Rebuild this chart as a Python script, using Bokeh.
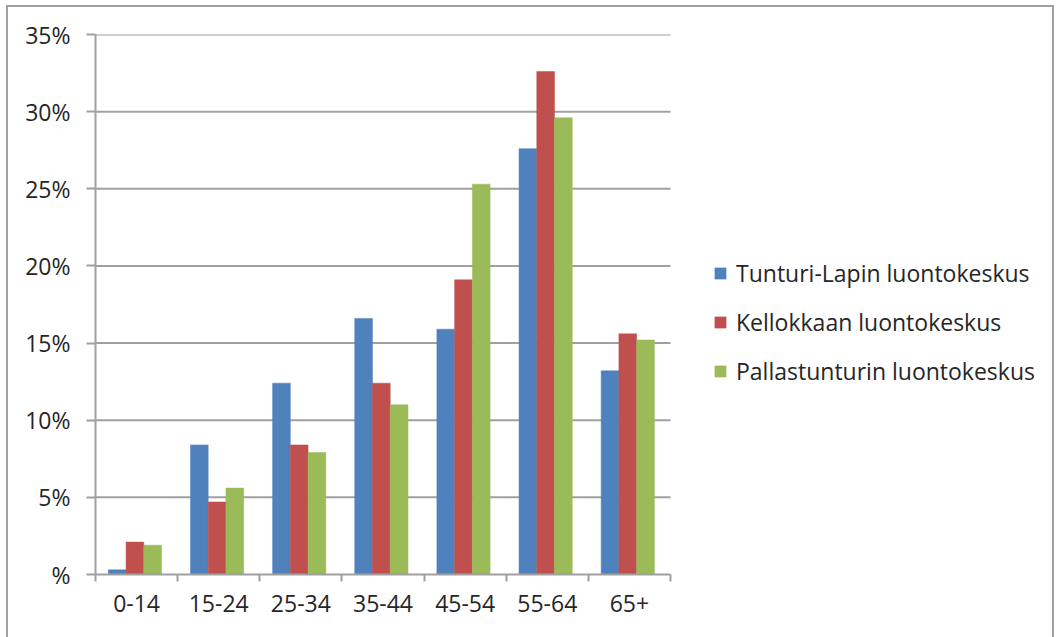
from bokeh.plotting import figure
from bokeh.models import ColumnDataSource, FixedTicker, Legend, LegendItem
from bokeh.embed import file_html
from bokeh.resources import INLINE

# Age groups and visitor shares (%) for three nature centres
age_groups = ["0-14", "15-24", "25-34", "35-44", "45-54", "55-64", "65+"]
tunturi_lappi = [0.3, 8.4, 12.4, 16.6, 15.9, 27.6, 13.2]
kellokas = [2.1, 4.7, 8.4, 12.4, 19.1, 32.6, 15.6]
pallastunturi = [1.9, 5.6, 7.9, 11.0, 25.3, 29.6, 15.2]

series_names = ["Tunturi-Lapin luontokeskus", "Kellokkaan luontokeskus",
                "Pallastunturin luontokeskus"]
series_colors = ["#4F81BD", "#C0504D", "#9BBB59"]

y_ticks = [0, 5, 10, 15, 20, 25, 30, 35]
y_tick_labels = ["%", "5%", "10%", "15%", "20%", "25%", "30%", "35%"]

FONT = "Open Sans"
FONT_SIZE = "23px"
TEXT = "#262626"
GRAY = "#a0a0a0"

# page layout (pixels)
OFF_X, OFF_Y, BORDER = 6, 5, 2
CANVAS_W, CANVAS_H = 1048, 634
AXIS_LEFT, AXIS_TOP, AXIS_BOTTOM = 95, 34, 574
PLOT_RIGHT = 670                      # where the category axis ends
FRAME_RIGHT = OFF_X + BORDER + CANVAS_W

n = len(age_groups)
# the frame continues to the right border so the legend can sit inside it;
# axis and grid lines stop at the end of the category area
x_end = n * (FRAME_RIGHT - AXIS_LEFT) / (PLOT_RIGHT - AXIS_LEFT)

p = figure(width=CANVAS_W, height=CANVAS_H, x_range=(0, x_end), y_range=(0, 35),
           output_backend="svg", toolbar_location=None,
           min_border_left=AXIS_LEFT - OFF_X - BORDER, min_border_right=0,
           min_border_top=AXIS_TOP - OFF_Y - BORDER,
           min_border_bottom=OFF_Y + BORDER + CANVAS_H - AXIS_BOTTOM)
p.styles = {"margin-left": f"{OFF_X}px", "margin-top": f"{OFF_Y}px",
            "border": f"{BORDER}px solid {GRAY}", "border-bottom": "none"}
p.outline_line_color = None
p.background_fill_color = "white"
p.border_fill_color = "white"
p.xgrid.visible = False
p.ygrid.visible = False

# horizontal grid lines across the category area only
grid_y = [t for t in y_ticks if t > 0]
p.segment(x0=[0] * len(grid_y), x1=[n] * len(grid_y), y0=grid_y, y1=grid_y,
          line_color=GRAY, line_width=2)

bar_w = 0.216
offsets = [-bar_w, 0.0, bar_w]
renderers = []
for name, vals, color, off in zip(series_names,
                                  [tunturi_lappi, kellokas, pallastunturi],
                                  series_colors, offsets):
    src = ColumnDataSource(dict(x=[i + 0.48 + off for i in range(n)], top=vals))
    r = p.vbar(x="x", top="top", width=bar_w, bottom=0, source=src,
               fill_color=color, line_color=color, line_width=0.5)
    renderers.append((name, r))

# x axis: labels centred on groups, tick marks on group boundaries
p.xaxis.bounds = (0, n)
p.xaxis.ticker = FixedTicker(ticks=[i + 0.5 for i in range(n)],
                             minor_ticks=list(range(n + 1)))
p.xaxis.major_label_overrides = {i + 0.5: g for i, g in enumerate(age_groups)}
p.xaxis.major_tick_out = 0
p.xaxis.major_tick_in = 0
p.xaxis.minor_tick_out = 7
p.xaxis.minor_tick_in = 0
p.xaxis.minor_tick_line_color = GRAY
p.xaxis.minor_tick_line_width = 2
p.xaxis.axis_line_color = GRAY
p.xaxis.axis_line_width = 2
p.xaxis.major_label_standoff = 13

# y axis
p.yaxis.ticker = FixedTicker(ticks=y_ticks, minor_ticks=[])
p.yaxis.major_label_overrides = {t: l for t, l in zip(y_ticks, y_tick_labels)}
p.yaxis.major_tick_out = 9
p.yaxis.major_tick_in = 0
p.yaxis.major_tick_line_color = GRAY
p.yaxis.major_tick_line_width = 2
p.yaxis.axis_line_color = GRAY
p.yaxis.axis_line_width = 2
p.yaxis.major_label_standoff = 16

for ax in (p.xaxis, p.yaxis):
    ax.major_label_text_font = FONT
    ax.major_label_text_font_size = FONT_SIZE
    ax.major_label_text_color = TEXT

legend = Legend(items=[LegendItem(label=s, renderers=[r]) for s, r in renderers],
                location=(713 - AXIS_LEFT, AXIS_BOTTOM - 387), orientation="vertical",
                glyph_width=14, glyph_height=14, label_height=20,
                label_standoff=9, spacing=17, padding=0, margin=0,
                border_line_color=None, background_fill_alpha=0,
                label_text_font=FONT, label_text_font_size=FONT_SIZE,
                label_text_color=TEXT)
p.add_layout(legend, "center")

open("out.html", "w").write(file_html(p, INLINE))
